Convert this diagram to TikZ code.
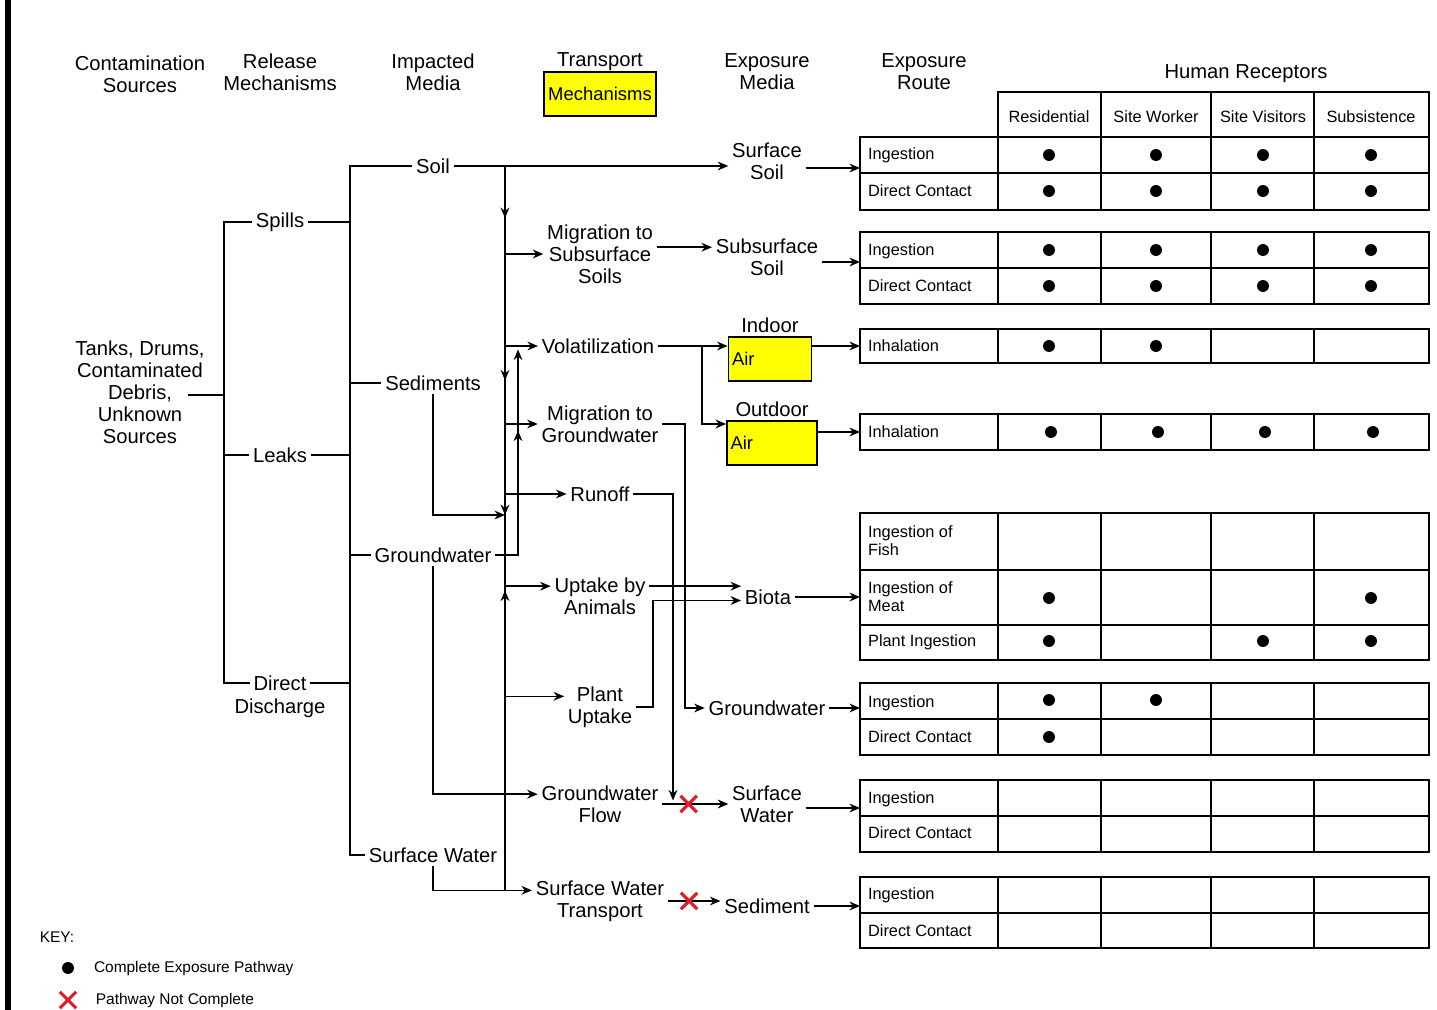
\documentclass[tikz,border=0pt]{standalone}
\usepackage{fontspec}
\setmainfont{Liberation Sans}
\usetikzlibrary{arrows.meta,positioning,calc,shapes.misc,decorations.markings}

\definecolor{hiyellow}{RGB}{255,255,0}
\definecolor{xred}{RGB}{225,30,40}

\tikzset{
  >={Stealth[length=6pt,width=5pt]},
  lbl/.style={font=\fontsize{11.5}{12.5}\selectfont,align=center,inner sep=2pt},
  cell/.style={font=\fontsize{9.3}{10.2}\selectfont,align=left,inner sep=1pt,anchor=west},
  colhead/.style={font=\fontsize{9.3}{10.2}\selectfont,inner sep=1pt},
  ybox/.style={draw,line width=1pt,fill=hiyellow,font=\fontsize{10.5}{12}\selectfont,inner sep=2pt},
  wire/.style={line width=.9pt},
  flow/.style={line width=.9pt,->},
  tbl/.style={line width=1.1pt},
  dot/.style={circle,fill=black,inner sep=0pt,minimum size=6.8pt},
  nope/.style={cross out,draw=xred,line width=1.8pt,inner sep=0pt,minimum size=7.5pt},
}

\begin{document}
\begin{tikzpicture}[x=0.02cm,y=-0.02cm]
      \useasboundingbox (0,0) rectangle (1437,1010);
      \fill (5,0) rectangle (11,1010);

      % headings
      \node[lbl] (h1) at (140,74) {Contamination\\Sources};
      \node[lbl] (h2) at (280,72) {Release\\Mechanisms};
      \node[lbl] (h3) at (433,72) {Impacted\\Media};
      \node[lbl] (h4) at (600,62) {Transport};
      \node[ybox,minimum width=2.24cm,minimum height=.88cm,below=-2pt of h4] (h4b) {Mechanisms};
      \node[lbl] (h5) at (767,72) {Exposure\\Media};
      \node[lbl] (h6) at (924,72) {Exposure\\Route};
      \node[lbl] (h7) at (1246,74) {Human Receptors};

      % receptor table
      \draw[tbl] (998,92) rectangle (1429,137);
      \foreach \x in {1101,1211,1314} \draw[tbl] (\x,92) -- (\x,137);
      \foreach \x/\t [count=\i] in {1049/Residential,1156/Site Worker,1263/Site Visitors,1371/Subsistence}
        \node[colhead] (rc\i) at (\x,117) {\t};
      \foreach \t/\b in {137/210,232/304,329/363,414/450,513/660,683/755,780/852,877/948}{
        \draw[tbl] (860,\t) rectangle (1429,\b);
        \foreach \x in {998,1101,1211,1314} \draw[tbl] (\x,\t) -- (\x,\b);
      }
      \foreach \y in {173,268,570,625,719,816,913} \draw[tbl] (860,\y) -- (1429,\y);

      \foreach \y/\t [count=\i] in {155/Ingestion,191/Direct Contact,251/Ingestion,286/Direct Contact,346/Inhalation,432/Inhalation,642/Plant Ingestion,703/Ingestion,737/Direct Contact,799/Ingestion,833/Direct Contact,895/Ingestion,931/Direct Contact}
        \node[cell] (rw\i) at (866,\y) {\t};
      \node[cell] (fish) at (866,541) {Ingestion of\\Fish};
      \node[cell] (meat) at (866,597) {Ingestion of\\Meat};

      \foreach \x/\y [count=\i] in {1049/155,1156/155,1263/155,1371/155,1049/191,1156/191,1263/191,1371/191,
          1049/250,1156/250,1263/250,1371/250,1049/286,1156/286,1263/286,1371/286,
          1049/346,1156/346,1051/432,1158/432,1265/432,1373/432,
          1049/598,1371/598,1049/641,1263/641,1371/641,1049/700,1156/700,1049/737}
        \node[dot] (pt\i) at (\x,\y) {};

      % pathway nodes
      \node[lbl] (src) at (140,392) {Tanks, Drums,\\Contaminated\\Debris,\\Unknown\\Sources};
      \node[lbl] (spl) at (280,222) {Spills};
      \node[lbl] (lk) at (280,455) {Leaks};
      \node[lbl] (dd) at (280,683) {Direct};
      \node[lbl] (dd2) at (280,708) {Discharge};
      \node[lbl] (soil) at (433,166) {Soil};
      \node[lbl] (sed) at (433,383) {Sediments};
      \node[lbl] (gw) at (433,555) {Groundwater};
      \node[lbl] (sw) at (433,855) {Surface Water};
      \node[lbl] (mss) at (600,254) {Migration to\\Subsurface\\Soils};
      \node[lbl] (vol) at (598,346) {Volatilization};
      \node[lbl] (mgw) at (600,424) {Migration to\\Groundwater};
      \node[lbl] (run) at (600,494) {Runoff};
      \node[lbl] (upa) at (600,596) {Uptake by\\Animals};
      \node[lbl] (plu) at (600,707) {Plant\\Uptake};
      \node[lbl] (gwf) at (600,804) {Groundwater\\Flow};
      \node[lbl] (swt) at (600,901) {Surface Water\\Transport};
      \node[lbl] (ssoil) at (767,161) {Surface\\Soil};
      \node[lbl] (subs) at (767,257) {Subsurface\\Soil};
      \node[ybox,text width=1.52cm,align=left,minimum height=.88cm] (inair) at (770,359) {Air};
      \node[lbl,above=0pt of inair] (indoor) {Indoor};
      \node[ybox,text width=1.66cm,align=left,minimum height=.88cm] (outair) at (772,443) {Air};
      \node[lbl,above=0pt of outair] (outdoor) {Outdoor};
      \node[lbl] (biota) at (768,597) {Biota};
      \node[lbl] (gwe) at (767,708) {Groundwater};
      \node[lbl] (sfw) at (767,804) {Surface\\Water};
      \node[lbl] (sedm) at (767,906) {Sediment};

      % first lines of two-line labels
      \foreach \n in {upa,plu,gwf,swt,subs}
        \path ($(\n.north)!.28!(\n.south)$) coordinate (\n1);

      % bus lines and bends
      \coordinate (xa) at (224,0);
      \coordinate (xb) at (350,0);
      \coordinate (xc) at (505,0);
      \coordinate (xd) at (518,0);
      \coordinate (xp) at (653,0);
      \coordinate (xr) at (673,0);
      \coordinate (xm) at (685,0);
      \coordinate (xv) at (702,0);
      \coordinate (srcd) at (188,395);
      \coordinate (sj) at (505,515);

      % entry points of the tables
      \coordinate (g1) at (860,168);
      \coordinate (g2) at (860,262);
      \coordinate (g3) at (860,346);
      \coordinate (g4) at (860,432);
      \coordinate (g5) at (860,597);
      \coordinate (g6) at (860,708);
      \coordinate (g7) at (860,808);
      \coordinate (g8) at (860,906);

      % sources to release mechanisms
      \draw[wire] (srcd) -- (srcd -| xa);
      \draw[wire] (spl) -| (xa |- dd) -- (dd);
      \draw[wire] (lk) -- (lk -| xa);

      % release mechanisms to impacted media
      \draw[wire] (soil) -| (xb |- sw) -- (sw);
      \foreach \n in {spl,lk,dd,sed,gw} \draw[wire] (\n) -- (\n -| xb);

      % impacted media to transport
      \draw[flow] (soil) -- (soil -| ssoil.west);
      \draw[wire,postaction={decorate},decoration={markings,
          mark=at position .072 with {\arrow{>}},
          mark=at position .296 with {\arrow{>}},
          mark=at position .482 with {\arrow{>}},
          mark=at position .586 with {\arrowreversed{>}}}]
        (soil -| xc) -- (swt1 -| xc);
      \foreach \n in {mss,vol,mgw,run} \draw[flow] (\n -| xc) -- (\n);
      \draw[flow] (upa1 -| xc) -- (upa1 -| upa.west);
      \draw[flow] (plu1 -| xc) -- (plu1 -| plu.west);
      \draw[flow] (sed) |- (sj);
      \draw[flow] (gw) |- (gwf1 -| gwf.west);
      \draw[flow] (sw) |- (swt1 -| swt.west);
      \draw[flow,postaction={decorate},decoration={markings,
          mark=at position .645 with {\arrow{>}}}]
        (gw) -| ([yshift=-2pt]xd |- vol);

      % transport to exposure media
      \draw[flow] (mss.east |- subs1) -- (subs1 -| subs.west);
      \draw[flow] (vol) -- (vol -| inair.west);
      \draw[flow] (vol -| xv) |- (mgw -| outair.west);
      \draw[flow] (mgw) -| (xm |- gwe) -- (gwe);
      \draw[flow] (run) -| ([yshift=2pt]xr |- gwf);
      \draw[flow] (upa1 -| upa.east) -- (upa1 -| biota.west);
      \draw[flow] (plu) -| ([yshift=-2pt]xp |- biota) -- ([yshift=-2pt]biota.west);
      \draw[flow] (gwf) -- (gwf -| sfw.west) node[nope,pos=.4] (cx1) {};
      \draw[flow] (swt) -- (swt -| sedm.west) node[nope,pos=.4] (cx2) {};

      % exposure media to routes
      \draw[flow] (ssoil.east |- g1) -- (g1);
      \draw[flow] (subs.east |- g2) -- (g2);
      \draw[flow] (inair.east |- g3) -- (g3);
      \draw[flow] (outair.east |- g4) -- (g4);
      \draw[flow] (biota.east |- g5) -- (g5);
      \draw[flow] (gwe.east |- g6) -- (g6);
      \draw[flow] (sfw.east |- g7) -- (g7);
      \draw[flow] (sedm.east |- g8) -- (g8);

      % key
      \node[font=\fontsize{8.8}{10}\selectfont,inner sep=1pt] (key) at (57,937) {KEY:};
      \node[dot] (kdot) at (68,968) {};
      \node[cell,font=\fontsize{8.8}{10}\selectfont,right=10pt of kdot] (kdott) {Complete Exposure Pathway};
      \node[nope] (kx) at (68,1000) {};
      \node[cell,font=\fontsize{8.8}{10}\selectfont,right=10pt of kx] (kxt) {Pathway Not Complete};
\end{tikzpicture}
\end{document}
